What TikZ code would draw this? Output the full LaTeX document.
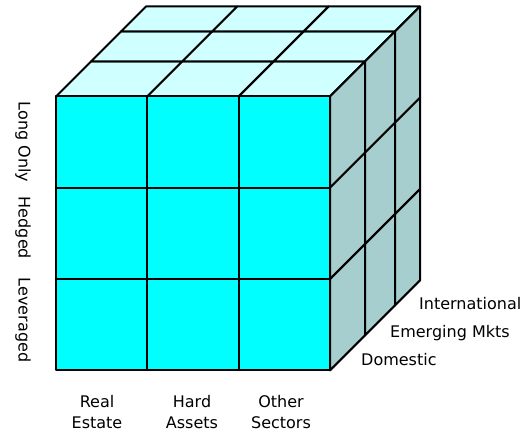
\documentclass[tikz,border=0pt]{standalone}
\usepackage{fontspec}
\setmainfont{DejaVu Sans}
\definecolor{frontcyan}{RGB}{0,255,255}
\definecolor{topcyan}{RGB}{208,255,255}
\definecolor{sidegray}{RGB}{166,206,206}
\begin{document}
\begin{tikzpicture}[
x=1pt, y=-1pt,
face/.style={draw, line width=2pt, line join=round},
lbl/.style={font=\fontsize{16}{21}\selectfont, inner sep=0pt}
]
\useasboundingbox (0,0) rectangle (531,435);

% top face
\foreach \k/\a/\b in {0/0/35, 1/35/65, 2/65/90}
  \foreach \i in {0,1,2}
    \draw[face, fill=topcyan] (56+91.3*\i+\a, 96.5-\a) -- (56+91.3*\i+91.3+\a, 96.5-\a)
      -- (56+91.3*\i+91.3+\b, 96.5-\b) -- (56+91.3*\i+\b, 96.5-\b) -- cycle;

% right face
\foreach \k/\a/\b in {0/0/35, 1/35/65, 2/65/90}
  \foreach \j in {0,1,2}
    \draw[face, fill=sidegray] (330+\a, 96.5+91.3*\j-\a) -- (330+\b, 96.5+91.3*\j-\b)
      -- (330+\b, 96.5+91.3*\j+91.3-\b) -- (330+\a, 96.5+91.3*\j+91.3-\a) -- cycle;

% front face
\foreach \i in {0,1,2}
  \foreach \j in {0,1,2}
    \draw[face, fill=frontcyan] (56+91.3*\i, 96.5+91.3*\j) rectangle ++(91.3,91.3);

% strategy labels
\node[lbl, rotate=-90] (longonly) at (23,142) {Long Only};
\node[lbl, rotate=-90] (hedged) at (23,228) {Hedged};
\node[lbl, rotate=-90] (leveraged) at (23,320) {Leveraged};

% sector labels
\node[lbl, align=center] (realestate) at (97,412) {Real\\Estate};
\node[lbl, align=center] (hardassets) at (192,412) {Hard\\Assets};
\node[lbl, align=center] (othersectors) at (281,412) {Other\\Sectors};

% region labels
\node[lbl, anchor=west] (domestic) at (361,360) {Domestic};
\node[lbl, anchor=west] (emerging) at (390,333) {Emerging Mkts};
\node[lbl, anchor=west] (international) at (419,304) {International};
\end{tikzpicture}
\end{document}
